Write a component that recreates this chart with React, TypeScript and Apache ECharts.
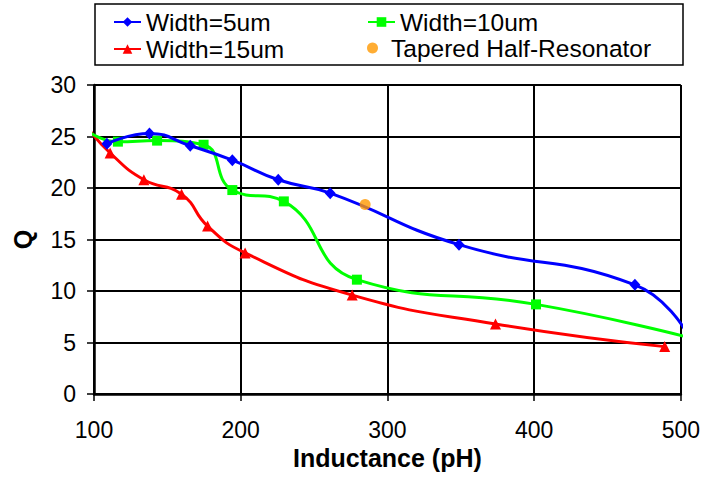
import React, { useEffect, useRef } from "react";
import * as echarts from "echarts";

const xTicks = [100, 200, 300, 400, 500];
const yTicks = [0, 5, 10, 15, 20, 25, 30];

// [inductance pH, Q]; entries flagged hidden are edge points with no marker
const width5: [number, number, boolean?][] = [
  [108.8, 24.3], [137.8, 25.3], [165.6, 24.1], [194.3, 22.7], [225.6, 20.8],
  [261, 19.5], [348.8, 14.5], [468.7, 10.6], [502.5, 6.3, true],
];
const width10: [number, number, boolean?][] = [
  [97, 25.4, true], [116.3, 24.5], [143, 24.6], [174.7, 24.2], [194.3, 19.8],
  [229.4, 18.7], [279.2, 11.1], [401.3, 8.7], [502.5, 5.6, true],
];
const width15: [number, number, boolean?][] = [
  [96, 25.8, true], [111, 23.4], [134, 20.8], [159.7, 19.4], [177.4, 16.3],
  [203, 13.7], [276, 9.6], [373.7, 6.8], [489, 4.6],
];
const tapered: [number, number][] = [[284.8, 18.4]];

const FONT = "Liberation Sans, Arial, Helvetica, sans-serif";

function toData(arr: [number, number, boolean?][]) {
  return arr.map(([x, y, hidden]) =>
    hidden ? { value: [x, y], symbol: "none" } : { value: [x, y] }
  );
}

export default function App() {
  const ref = useRef<HTMLDivElement>(null);
  useEffect(() => {
    if (!ref.current) return;
    const chart = echarts.init(ref.current, null, { renderer: "svg" });
    const legendText = { fontFamily: FONT, fontSize: 24.5, color: "#000", lineHeight: 26 };
    chart.setOption({
      animation: false,
      backgroundColor: "#fff",
      textStyle: { fontFamily: FONT },
      grid: { left: 94, right: 21, top: 85, bottom: 84, containLabel: false },
      graphic: [
        {
          type: "rect",
          shape: { x: 95, y: 4, width: 588, height: 61 },
          style: { fill: "none", stroke: "#000", lineWidth: 1.5 },
          z: 0,
        },
      ],
      legend: [
        {
          data: ["Width=5um", "Width=15um"],
          orient: "vertical",
          left: 108,
          top: 4,
          itemWidth: 27,
          itemHeight: 12,
          itemGap: 1,
          textStyle: legendText,
        },
        {
          data: ["Width=10um"],
          orient: "vertical",
          left: 362,
          top: 4,
          itemWidth: 27,
          itemHeight: 12,
          itemGap: 1,
          textStyle: legendText,
        },
        {
          data: ["Tapered Half-Resonator"],
          orient: "vertical",
          left: 362,
          top: 30,
          itemWidth: 27,
          itemHeight: 11,
          itemGap: 1,
          textStyle: legendText,
        },
      ],
      xAxis: {
        type: "value",
        min: xTicks[0],
        max: xTicks[xTicks.length - 1],
        interval: 100,
        name: "Inductance (pH)",
        nameLocation: "middle",
        nameGap: 50,
        nameTextStyle: { fontFamily: FONT, fontSize: 25, fontWeight: "bold", color: "#000" },
        axisLine: { show: true, lineStyle: { color: "#000", width: 2.5 } },
        axisTick: { show: true, length: 7, lineStyle: { color: "#000", width: 1.5 } },
        axisLabel: { margin: 24, fontFamily: FONT, fontSize: 23, color: "#000" },
        splitLine: { show: true, lineStyle: { color: "#000", width: 2 } },
      },
      yAxis: {
        type: "value",
        min: yTicks[0],
        max: yTicks[yTicks.length - 1],
        interval: 5,
        name: "Q",
        nameLocation: "middle",
        nameGap: 59,
        nameTextStyle: { fontFamily: FONT, fontSize: 25, fontWeight: "bold", color: "#000" },
        axisLine: { show: true, lineStyle: { color: "#000", width: 2.5 } },
        axisTick: { show: true, length: 7, lineStyle: { color: "#000", width: 1.5 } },
        axisLabel: { margin: 18, fontFamily: FONT, fontSize: 23, color: "#000" },
        splitLine: { show: true, lineStyle: { color: "#000", width: 2 } },
      },
      series: [
        {
          name: "Width=5um",
          type: "line",
          smooth: 0.5,
          clip: false,
          data: toData(width5),
          symbol: "diamond",
          symbolSize: [11, 12],
          color: "#0000ff",
          lineStyle: { width: 3, color: "#0000ff" },
          itemStyle: { color: "#0000ff" },
          z: 5,
        },
        {
          name: "Width=10um",
          type: "line",
          smooth: 0.5,
          clip: false,
          data: toData(width10),
          symbol: "rect",
          symbolSize: 10,
          color: "#00ff00",
          lineStyle: { width: 3, color: "#00ff00" },
          itemStyle: { color: "#00ff00" },
          z: 4,
        },
        {
          name: "Width=15um",
          type: "line",
          smooth: 0.5,
          clip: false,
          data: toData(width15),
          symbol: "triangle",
          symbolSize: 11,
          color: "#ff0000",
          lineStyle: { width: 3, color: "#ff0000" },
          itemStyle: { color: "#ff0000" },
          z: 3,
        },
        {
          name: "Tapered Half-Resonator",
          type: "scatter",
          data: tapered,
          symbol: "circle",
          symbolSize: 11,
          color: "#ff9900",
          itemStyle: { color: "#ff9900" },
          z: 6,
        },
      ],
    });
    return () => chart.dispose();
  }, []);
  return (
    <div
      ref={ref}
      style={{ position: "fixed", left: 0, top: 0, width: 703, height: 478, background: "#fff" }}
    />
  );
}
